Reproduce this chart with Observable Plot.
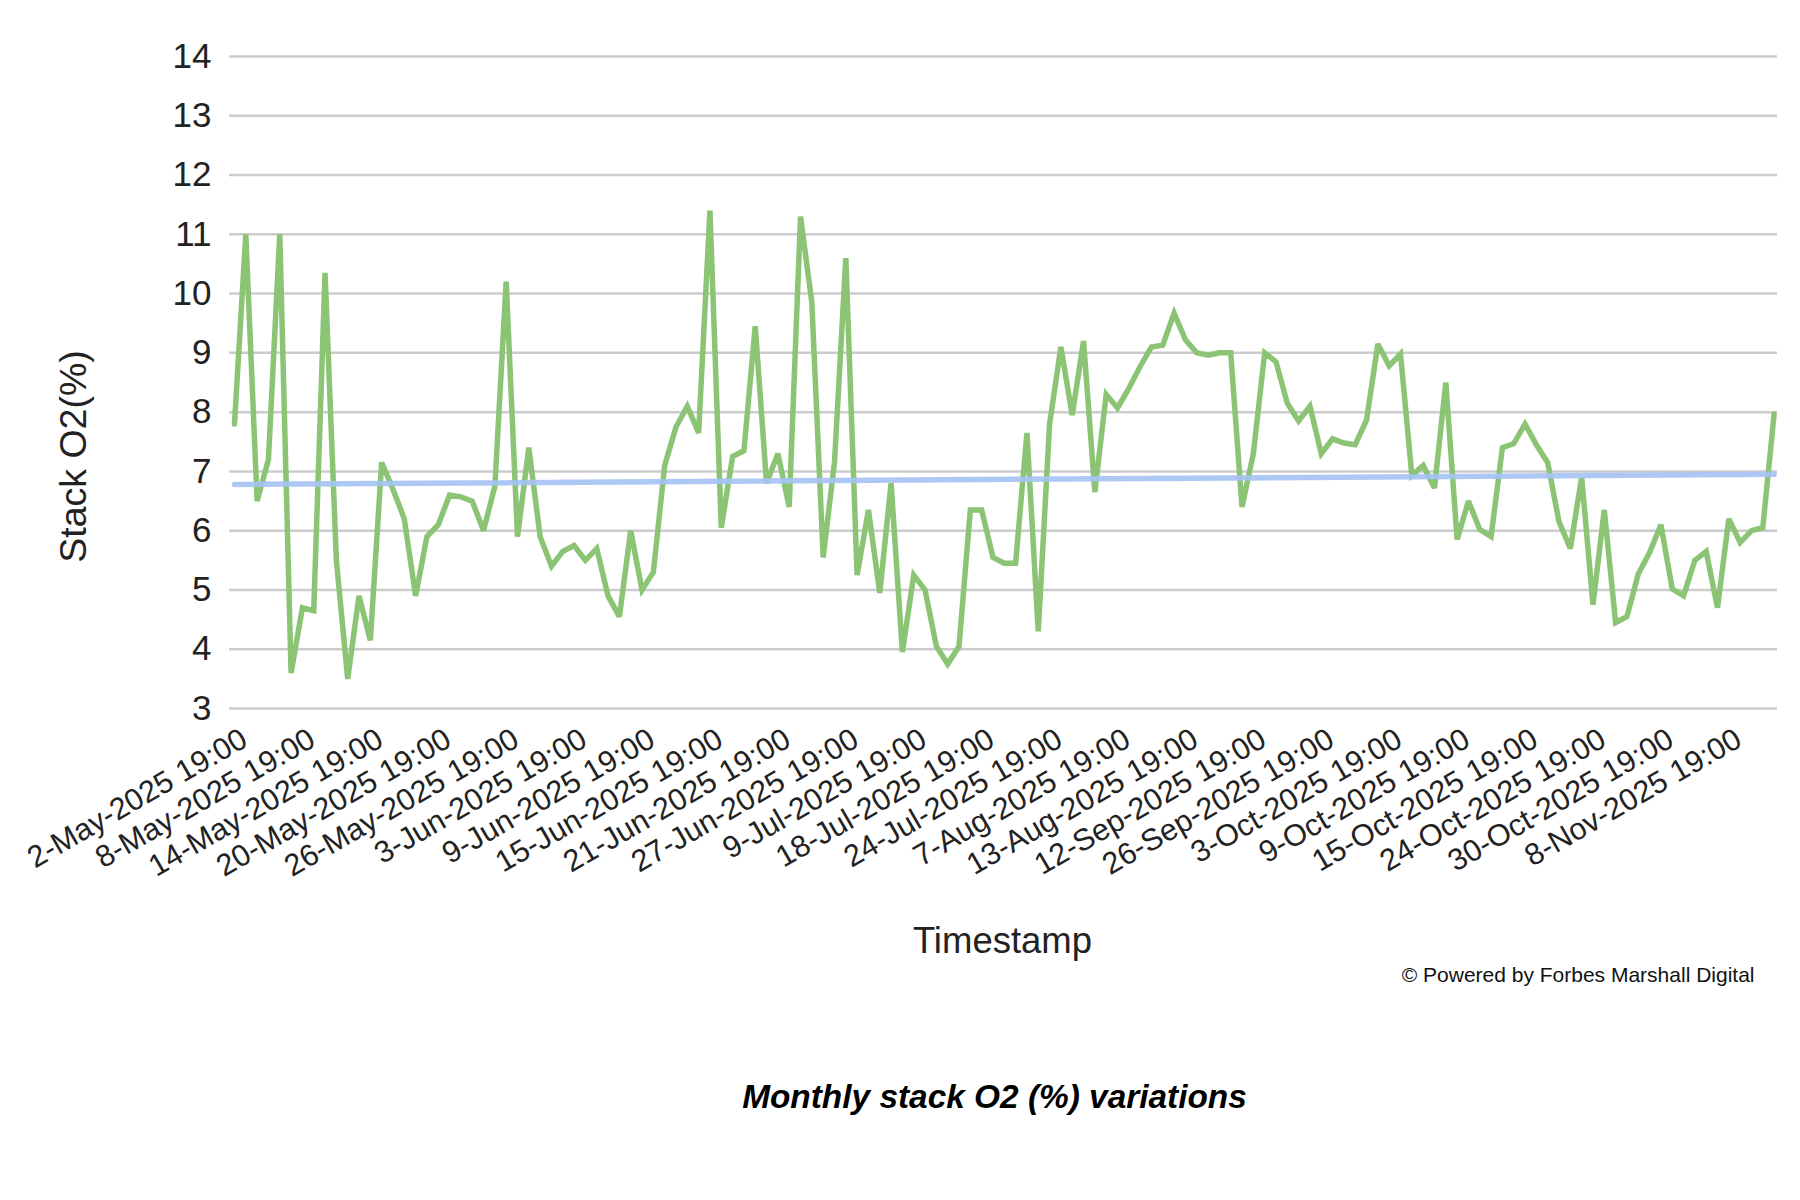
<!DOCTYPE html>
<html>
<head>
<meta charset="utf-8">
<script src="https://cdn.jsdelivr.net/npm/d3@7"></script>
<script src="https://cdn.jsdelivr.net/npm/@observablehq/plot@0.6"></script>
<style>
  html, body { margin: 0; padding: 0; background: #ffffff; }
  body { width: 1800px; font-family: "Liberation Sans", Arial, sans-serif; }
  #chart svg { display: block; }
  #caption {
    margin-top: 67px;
    padding-left: 189px;
    text-align: center;
    font-family: "Liberation Sans", Arial, sans-serif;
    font-weight: bold;
    font-style: italic;
    font-size: 33.4px;
    line-height: 40px;
    color: #000;
  }
</style>
</head>
<body>
<div id="chart"></div>
<div id="caption">Monthly stack O2 (%) variations</div>
<script>
// ---- data ----
const o2Values = [
  7.8, 11.0, 6.5, 7.2, 11.0, 3.6, 4.7, 4.65, 10.35, 5.5,
  3.5, 4.9, 4.15, 7.15, 6.7, 6.2, 4.9, 5.9, 6.1, 6.6,
  6.57, 6.5, 6.0, 6.75, 10.2, 5.9, 7.4, 5.9, 5.4, 5.65,
  5.75, 5.5, 5.7, 4.9, 4.55, 6.0, 5.0, 5.3, 7.1, 7.75,
  8.1, 7.65, 11.4, 6.05, 7.25, 7.35, 9.45, 6.8, 7.3, 6.4,
  11.3, 9.85, 5.55, 7.15, 10.6, 5.25, 6.35, 4.95, 6.8, 3.95,
  5.25, 5.0, 4.05, 3.75, 4.05, 6.35, 6.35, 5.55, 5.45, 5.45,
  7.65, 4.3, 7.8, 9.1, 7.95, 9.2, 6.65, 8.3, 8.07, 8.4,
  8.77, 9.1, 9.13, 9.67, 9.22, 9.0, 8.96, 9.0, 9.0, 6.4,
  7.3, 9.0, 8.85, 8.15, 7.85, 8.1, 7.3, 7.55, 7.48, 7.45,
  7.87, 9.15, 8.78, 8.98, 6.93, 7.1, 6.72, 8.5, 5.85, 6.5,
  6.02, 5.9, 7.4, 7.47, 7.8, 7.45, 7.15, 6.15, 5.7, 6.9,
  4.75, 6.35, 4.45, 4.55, 5.27, 5.63, 6.1, 5.02, 4.9, 5.5,
  5.65, 4.7, 6.2, 5.8, 6.0, 6.05, 7.97
];

const tickLabels = [
  "2-May-2025 19:00", "8-May-2025 19:00", "14-May-2025 19:00", "20-May-2025 19:00",
  "26-May-2025 19:00", "3-Jun-2025 19:00", "9-Jun-2025 19:00", "15-Jun-2025 19:00",
  "21-Jun-2025 19:00", "27-Jun-2025 19:00", "9-Jul-2025 19:00", "18-Jul-2025 19:00",
  "24-Jul-2025 19:00", "7-Aug-2025 19:00", "13-Aug-2025 19:00", "12-Sep-2025 19:00",
  "26-Sep-2025 19:00", "3-Oct-2025 19:00", "9-Oct-2025 19:00", "15-Oct-2025 19:00",
  "24-Oct-2025 19:00", "30-Oct-2025 19:00", "8-Nov-2025 19:00"
];
const tickEvery = 6;                 // one label every 6 readings
const yTicks = [3, 4, 5, 6, 7, 8, 9, 10, 11, 12, 13, 14];
const trendValues = [6.78, 6.95];    // trendline at first and last reading
const yTitle = "Stack O2(%)";
const xTitle = "Timestamp";
const footerText = "\u00A9 Powered by Forbes Marshall Digital";

// ---- tables built from the arrays ----
const readings = o2Values.map((v, i) => ({idx: i, o2: v}));
const tickIdx = tickLabels.map((_, k) => k * tickEvery);
const trend = [
  {idx: 0, o2: trendValues[0]},
  {idx: o2Values.length - 1, o2: trendValues[1]}
];

const font = "'Liberation Sans', Arial, sans-serif";
const textColor = "#222222";

const chart = Plot.plot({
  width: 1800,
  height: 1010,
  marginTop: 56,
  marginBottom: 302,
  marginLeft: 229,
  marginRight: 23,
  style: {fontFamily: font, background: "#ffffff", color: textColor, overflow: "visible"},
  x: {domain: [-0.44, 136.3], axis: null},
  y: {domain: [3, 14], axis: null},
  marks: [
    Plot.ruleY(yTicks, {stroke: "#cccccc", strokeWidth: 2.5}),
    Plot.axisY({
      ticks: yTicks, tickSize: 0, tickPadding: 18, fontSize: 35,
      label: null, tickFormat: d => String(d), fill: textColor
    }),
    Plot.line(readings, {
      x: "idx", y: "o2", stroke: "#8bc474", strokeWidth: 5.5,
      strokeLinejoin: "miter", strokeMiterlimit: 3
    }),
    Plot.line(trend, {
      x: "idx", y: "o2", stroke: "#a4c2f4", strokeWidth: 5.5, strokeOpacity: 0.9
    }),
    Plot.text(tickIdx, {
      x: d => d, text: (d, k) => tickLabels[k],
      frameAnchor: "bottom", textAnchor: "end", lineAnchor: "middle",
      rotate: -30, dx: 10, dy: 28, fontSize: 30.5, fill: textColor
    }),
    Plot.text([xTitle], {
      frameAnchor: "bottom", lineAnchor: "bottom", textAnchor: "middle",
      dx: -1, dy: 244, fontSize: 36.5, fill: textColor
    }),
    Plot.text([yTitle], {
      frameAnchor: "left", rotate: -90, textAnchor: "middle", lineAnchor: "middle",
      dx: -156, dy: 74, fontSize: 37.5, fill: textColor
    }),
    Plot.text([footerText], {
      frameAnchor: "bottom-right", textAnchor: "end", lineAnchor: "bottom",
      dx: -23, dy: 273, fontSize: 21, fill: "#111111"
    })
  ]
});

document.getElementById("chart").appendChild(chart);
</script>
</body>
</html>
